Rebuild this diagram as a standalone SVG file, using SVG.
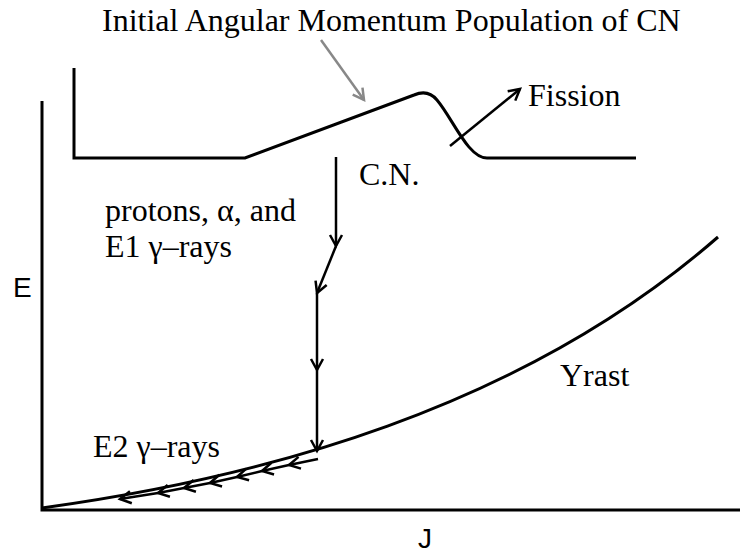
<svg xmlns="http://www.w3.org/2000/svg" width="756" height="556" viewBox="0 0 756 556">
<style>
.t{font-family:"Liberation Serif","Times New Roman",serif;font-size:32px;fill:#000}
.s{font-family:"Liberation Sans",Arial,sans-serif;font-size:28px;fill:#000}
.ln{fill:none;stroke:#000;stroke-width:3}
.ar{fill:none;stroke:#000;stroke-width:2.5;marker-end:url(#ah)}
</style>
<defs>
<marker id="ah" markerUnits="userSpaceOnUse" markerWidth="16" markerHeight="16" refX="12" refY="7" orient="auto" viewBox="0 0 16 14">
<path d="M1,1 L12,7 L1,13" fill="none" stroke="#000" stroke-width="2.5"/>
</marker>
<marker id="ahg" markerUnits="userSpaceOnUse" markerWidth="16" markerHeight="16" refX="12" refY="7" orient="auto" viewBox="0 0 16 14">
<path d="M1,1 L12,7 L1,13" fill="none" stroke="#888" stroke-width="2.5"/>
</marker>
</defs>
<g id="axes">
<path class="ln" d="M42,101 L42,510 L740,510"/>
<text class="s" x="13" y="297">E</text>
<text class="s" x="418" y="548">J</text>
</g>
<g id="population">
<path class="ln" d="M74,68 L74,158 L245,158 L414,95 Q428,89 437,100 C453,119 468,158 487,158 L636,158"/>
<text class="t" x="102" y="31">Initial Angular Momentum Population of CN</text>
</g>
<g id="yrast">
<path class="ln" d="M42,508 C260,478 520,410 718,237"/>
<text class="t" x="560" y="386">Yrast</text>
</g>
<g id="labels">
<text class="t" x="528" y="106">Fission</text>
<text class="t" x="359" y="185">C.N.</text>
<text class="t" x="105" y="221">protons, α, and</text>
<text class="t" x="105" y="257">E1 γ–rays</text>
<text class="t" x="93" y="457">E2 γ–rays</text>
</g>
<g id="connectors">
<line x1="321" y1="40" x2="364" y2="100" stroke="#888" stroke-width="2.5" marker-end="url(#ahg)"/>
<line class="ar" x1="450" y1="146" x2="520" y2="89"/>
<line class="ar" x1="336" y1="157" x2="336" y2="246"/>
<line class="ar" x1="336" y1="246" x2="317" y2="293"/>
<line class="ar" x1="317" y1="293" x2="317" y2="370"/>
<line class="ar" x1="317" y1="370" x2="317" y2="451"/>
<line class="ar" x1="318" y1="459" x2="289" y2="465"/>
<line class="ar" x1="289" y1="465" x2="262" y2="471"/>
<line class="ar" x1="262" y1="471" x2="237" y2="477"/>
<line class="ar" x1="237" y1="477" x2="210" y2="483"/>
<line class="ar" x1="210" y1="483" x2="184" y2="488"/>
<line class="ar" x1="184" y1="488" x2="158" y2="493"/>
<line class="ar" x1="158" y1="493" x2="120" y2="499"/>
</g>
</svg>
